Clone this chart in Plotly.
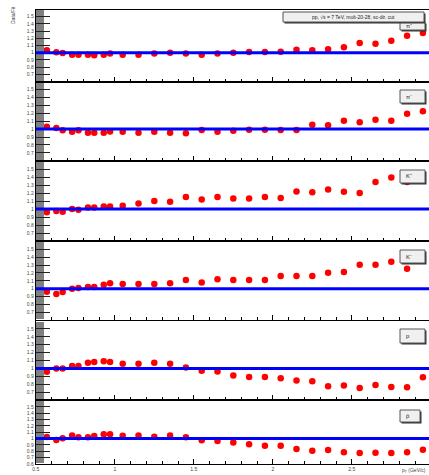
import plotly.graph_objects as go

W, H = 429, 475

# ---------------- data ----------------
pt = [0.53, 0.57, 0.63, 0.67, 0.73, 0.77, 0.83, 0.87, 0.93, 0.97,
      1.05, 1.15, 1.25, 1.35, 1.45, 1.55, 1.65, 1.75, 1.85, 1.95,
      2.05, 2.15, 2.25, 2.35, 2.45, 2.55, 2.65, 2.75, 2.85, 2.95]

ratio_pi_plus = [1.051, 1.033, 1.006, 0.996, 0.972, 0.972, 0.972, 0.964, 0.972, 0.990,
                 0.972, 0.972, 0.990, 1.000, 0.990, 0.972, 0.990, 1.000, 1.010, 1.010,
                 1.014, 1.042, 1.033, 1.047, 1.075, 1.135, 1.125, 1.167, 1.236, 1.274]
ratio_pi_minus = [1.059, 1.030, 1.013, 0.984, 0.967, 0.984, 0.954, 0.954, 0.954, 0.971,
                  0.967, 0.954, 0.967, 0.954, 0.946, 0.987, 0.967, 0.980, 0.990, 0.990,
                  0.987, 0.987, 1.054, 1.047, 1.105, 1.085, 1.118, 1.105, 1.194, 1.224]
ratio_k_plus = [0.958, 0.958, 0.975, 0.966, 1.000, 0.990, 1.020, 1.020, 1.030, 1.030,
                1.040, 1.070, 1.100, 1.090, 1.150, 1.120, 1.150, 1.130, 1.130, 1.150,
                1.138, 1.220, 1.208, 1.245, 1.216, 1.200, 1.338, 1.395, 1.338, 1.420]
ratio_k_minus = [1.025, 0.962, 0.933, 0.958, 1.000, 1.010, 1.020, 1.020, 1.050, 1.070,
                 1.060, 1.060, 1.060, 1.070, 1.110, 1.080, 1.120, 1.110, 1.110, 1.110,
                 1.161, 1.161, 1.161, 1.203, 1.211, 1.304, 1.304, 1.342, 1.253, 1.400]
ratio_p = [0.958, 0.958, 1.000, 1.000, 1.030, 1.030, 1.070, 1.080, 1.090, 1.080,
           1.060, 1.060, 1.070, 1.060, 1.010, 0.970, 0.960, 0.910, 0.890, 0.890,
           0.876, 0.846, 0.838, 0.775, 0.782, 0.753, 0.791, 0.766, 0.762, 0.889]
ratio_pbar = [0.976, 1.024, 0.976, 1.003, 1.050, 1.019, 1.019, 1.039, 1.066, 1.066,
              1.044, 1.050, 1.028, 1.050, 1.019, 0.972, 0.961, 0.940, 0.909, 0.887,
              0.887, 0.835, 0.808, 0.819, 0.783, 0.772, 0.776, 0.772, 0.783, 0.824]

series = [ratio_pi_plus, ratio_pi_minus, ratio_k_plus, ratio_k_minus, ratio_p, ratio_pbar]
particle_labels = ["π⁺", "π⁻", "K⁺", "K⁻", "p", "p̄"]

fit_level = 1.0
y_tickvals = [0.7, 0.8, 0.9, 1.0, 1.1, 1.2, 1.3, 1.4, 1.5]
y_ticktext = ["0.7", "0.8", "0.9", "1", "1.1", "1.2", "1.3", "1.4", "1.5"]
y_tickvals_last = [0.6, 0.7, 0.8, 0.9, 1.0, 1.1, 1.2, 1.3, 1.4, 1.5]
y_ticktext_last = ["0.6", "0.7", "0.8", "0.9", "1", "1.1", "1.2", "1.3", "1.4", "1.5"]
x_tickvals = [0.5, 1.0, 1.5, 2.0, 2.5]
x_ticktext = ["0.5", "1", "1.5", "2", "2.5"]
header_text = "pp, √s = 7 TeV, mult-20-28, sc-dir. cut"
x_title = "p<sub>T</sub> (GeV/c)"
y_title = "Data/Fit"

# ---------------- layout geometry (pixels) ----------------
panel_px = [(9.5, 81.5), (81.5, 160.8), (161.0, 241.0),
            (241.3, 320.3), (321.0, 400.0), (400.4, 464.0)]
label_box_px = [(400, 22, 425, 30), (400, 90, 425, 103), (400, 170, 425, 183),
                (400, 250, 425, 263), (400, 329, 425, 343), (400, 410, 420, 422)]
x_left_px = 35.8
px_per_gev = 158.0


def xp(px):
    return px / W


def yp(py):
    return 1 - py / H


FONT = "Liberation Sans, Arial, sans-serif"
fig = go.Figure()
layout = dict(width=W, height=H, margin=dict(l=0, r=0, t=0, b=0, autoexpand=False),
              paper_bgcolor="white", plot_bgcolor="white", showlegend=False,
              font=dict(family=FONT, size=5, color="#333333"))
shapes = []
annotations = []

xr = [0.5, 0.5 + (W - x_left_px) / px_per_gev]

for i, (vals, (top, bot)) in enumerate(zip(series, panel_px)):
    n = i + 1
    xa = "x" if n == 1 else f"x{n}"
    ya = "y" if n == 1 else f"y{n}"
    last = (n == len(series))
    fig.add_trace(go.Scatter(
        x=pt, y=vals, mode="markers", xaxis=xa, yaxis=ya,
        marker=dict(color="#ff0000", size=6.5, symbol="circle", line=dict(width=0)),
        hoverinfo="x+y"))
    layout["xaxis" if n == 1 else f"xaxis{n}"] = dict(
        domain=[xp(x_left_px), 1], range=xr, anchor=ya,
        showgrid=False, zeroline=False, showline=True, linecolor="#000000",
        linewidth=1, mirror=True,
        ticks="inside", ticklen=5, tickcolor="#000000", tickwidth=1,
        tickvals=x_tickvals, ticktext=x_ticktext, showticklabels=last,
        tickfont=dict(size=5, color="#444444"),
        minor=dict(ticks="inside", ticklen=3, dtick=0.1, tick0=0.5,
                   tickcolor="#000000", tickwidth=1))
    layout["yaxis" if n == 1 else f"yaxis{n}"] = dict(
        domain=[yp(bot), yp(top)], range=[0.6, 1.6], anchor=xa,
        showgrid=False, zeroline=False, showline=True, linecolor="#000000",
        linewidth=1, mirror=True,
        ticks="inside", ticklen=14, tickcolor="#222222", tickwidth=1,
        tickvals=(y_tickvals_last if last else y_tickvals),
        ticktext=(y_ticktext_last if last else y_ticktext),
        tickfont=dict(size=5, color="#444444"),
        minor=dict(ticks="inside", ticklen=8, dtick=0.01, tick0=0.6,
                   tickcolor="#808080", tickwidth=0.5))
    # fit line at 1
    shapes.append(dict(type="line", xref=xa, yref=ya, x0=xr[0], x1=xr[1],
                       y0=fit_level, y1=fit_level, layer="above",
                       line=dict(color="#0000ff", width=3)))
    # particle label box with shadow
    bx0, by0, bx1, by1 = label_box_px[i]
    shapes.append(dict(type="rect", xref="paper", yref="paper",
                       x0=xp(bx0 + 1.5), x1=xp(bx1 + 1.5), y0=yp(by1 + 1.5), y1=yp(by0 + 1.5),
                       fillcolor="#333333", line=dict(width=0), layer="above"))
    shapes.append(dict(type="rect", xref="paper", yref="paper",
                       x0=xp(bx0), x1=xp(bx1), y0=yp(by1), y1=yp(by0),
                       fillcolor="#f0f0f0", line=dict(color="#555555", width=1), layer="above"))
    annotations.append(dict(xref="paper", yref="paper", x=xp(bx0 + 4), y=yp((by0 + by1) / 2),
                            text=particle_labels[i], showarrow=False, xanchor="left",
                            yanchor="middle", font=dict(size=6, color="#222222")))

# header box in panel 1
hx0, hy0, hx1, hy1 = 283, 12, 424, 22
shapes.append(dict(type="rect", xref="paper", yref="paper",
                   x0=xp(hx0 + 1.5), x1=xp(hx1 + 1.5), y0=yp(hy1 + 1.5), y1=yp(hy0 + 1.5),
                   fillcolor="#333333", line=dict(width=0), layer="above"))
shapes.append(dict(type="rect", xref="paper", yref="paper",
                   x0=xp(hx0), x1=xp(hx1), y0=yp(hy1), y1=yp(hy0),
                   fillcolor="#f0f0f0", line=dict(color="#555555", width=1), layer="above"))
annotations.append(dict(xref="paper", yref="paper", x=xp((hx0 + hx1) / 2), y=yp((hy0 + hy1) / 2),
                        text=header_text, showarrow=False, xanchor="center", yanchor="middle",
                        font=dict(size=5, color="#222222")))

# axis titles
annotations.append(dict(xref="paper", yref="paper", x=xp(13), y=yp(15), text=y_title,
                        textangle=-90, showarrow=False, xanchor="center", yanchor="middle",
                        font=dict(size=5, color="#444444")))
annotations.append(dict(xref="paper", yref="paper", x=xp(428), y=yp(470), text=x_title,
                        showarrow=False, xanchor="right", yanchor="middle",
                        font=dict(size=5, color="#444444")))

layout["shapes"] = shapes
layout["annotations"] = annotations
fig.update_layout(**layout)
fig.write_html("out.html", config={"displayModeBar": False},
               post_script="document.body.style.margin='0';document.body.style.overflow='hidden';")
